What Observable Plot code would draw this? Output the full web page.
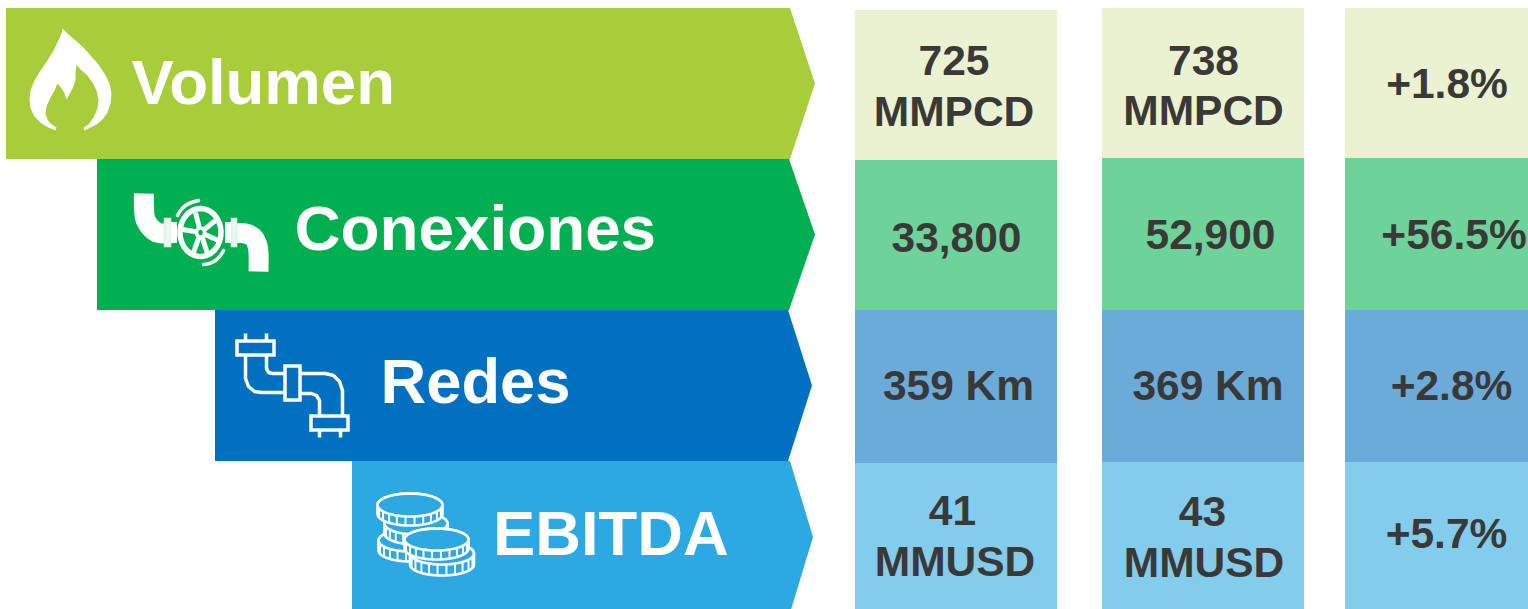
<!DOCTYPE html>
<html><head><meta charset="utf-8">
<script src="https://cdn.jsdelivr.net/npm/d3@7"></script>
<script src="https://cdn.jsdelivr.net/npm/@observablehq/plot@0.6"></script>
<style>html,body{margin:0;padding:0;background:#fff;overflow:hidden}svg{display:block}</style>
</head><body><div id="chart"></div>
<script>
const categories = ["Volumen", "Conexiones", "Redes", "EBITDA"];
const bandColors = ["#A9CD3A", "#00B050", "#0070C0", "#2CA8E2"];
const cellColors = ["#EAF2D2", "#6ED29B", "#6BABDA", "#83CCEC"];
const bandLeft = [6, 97, 215, 352];
const bandShoulder = [790, 789, 788, 790];
const bandTip = [815, 815, 812, 813];
const bandEdges = [8, 159, 310, 461, 613];
const labelX = [131, 294, 380, 492.5];
const labelY = [83.5, 229.5, 382.5, 534.5];
const labelSize = [63.5, 63.8, 63.3, 63.3];

const columnX = [[855, 1057], [1102, 1304], [1345, 1528]];
const columnEdges = [[10, 160, 310, 463, 609], [8, 158, 310, 462, 609], [8, 158, 310, 462, 609]];

const valueTexts = ["725", "MMPCD", "33,800", "359 Km", "41", "MMUSD",
  "738", "MMPCD", "52,900", "369 Km", "43", "MMUSD",
  "+1.8%", "+56.5%", "+2.8%", "+5.7%"];
const valueX = [953.5, 953.5, 956, 958, 952, 954.5, 1203, 1203, 1210, 1207.5, 1202, 1203.5, 1446.5, 1453.5, 1451, 1446];
const valueY = [61, 112, 238, 386, 511, 562, 61, 111, 235, 386, 512, 563, 84, 235, 386, 534];

// Icon outlines
const flame = [[62,28],[68,34],[75,40],[83,47],[90,55],[98,64],[104,73],[109,83],[111,93],[110,103],[107,112],[102,119],[96,124],[90,127],[84,130],[83,127],[88,124],[93,117],[97,108],[98,99],[96,90],[92,82],[86,74],[80,69],[76,64],[75,72],[75,80],[72,88],[66,99],[64,93],[62,89],[57,83],[54,90],[50,97],[46,106],[45,113],[47,119],[50,123],[56,127],[55,130],[48,127],[41,123],[34,116],[30,108],[29,98],[30,90],[34,80],[40,70],[47,60],[53,50],[58,40],[61,33]];
const pipeValveLeft = [[143.5,193],[143.5,208],[145,219],[151,228],[158,232.5],[171,232.5]];
const pipeValveRight = [[231,233],[245,233],[253,237],[257,245],[258,252],[258,271]];
const flanges = [[164,171,218,247],[231,237,218,247]];
const valveStubs = [[171,177,222,243],[225,231,222,243]];
const wheelCenter = [200, 232];
const wheelSpokes = [[195,212],[215,220],[218,240],[207,253],[193,252],[182,229]];
const wheelArcs = [[[177,215],[180,210],[185,205],[191,202],[198,200]], [[223,250],[220,255],[215,260],[209,263],[203,264]]];
const networkLines = [
  [[245,333],[245,341]], [[266,333],[266,341]],
  [[245,355],[245,378],[248,386],[254,391],[261,392],[285,392]],
  [[266,355],[266,368],[268,372],[272,373],[285,373]],
  [[300,373],[325,373],[333,375],[339,381],[342,390],[342,416]],
  [[300,393],[311,393],[316,395],[319,400],[319,416]],
  [[319,430],[319,437]], [[340,430],[340,437]]
];
const networkRects = [[237,274,341,355],[285,300,366,400],[311,348,416,430]];
const coinStack = [[410,540,32,11,10],[415.5,523,31.5,11,10],[409.5,504.5,32.5,11.5,9],[441.5,553,32,11,11],[436,539,32,11,9]];
const coinFill = bandColors[3];

const xy = ([x, y]) => ({x, y});
const ellipsePoints = (cx, cy, rx, ry, from = 0, to = 360, n = 48) =>
  d3.range(n + 1).map(i => {
    const a = (from + (to - from) * i / n) * Math.PI / 180;
    return {x: cx + rx * Math.cos(a), y: cy + ry * Math.sin(a)};
  });
const opts = {x: "x", y: "y"};

const bandMarks = categories.map((c, i) => Plot.area([
  {x: bandLeft[i], y1: bandEdges[i], y2: bandEdges[i + 1]},
  {x: bandShoulder[i], y1: bandEdges[i], y2: bandEdges[i + 1]},
  {x: bandTip[i], y1: (bandEdges[i] + bandEdges[i + 1]) / 2, y2: (bandEdges[i] + bandEdges[i + 1]) / 2}
], {x1: "x", y1: "y1", y2: "y2", fill: bandColors[i]}));

const cellMarks = columnX.flatMap((cx, j) => categories.map((c, i) => Plot.rect([0], {
  x1: () => cx[0], x2: () => cx[1], y1: () => columnEdges[j][i], y2: () => columnEdges[j][i + 1],
  fill: cellColors[i]
})));

const white = "#fff";
const valveMarks = [
  Plot.line(pipeValveLeft.map(xy), {...opts, stroke: white, strokeWidth: 20, strokeLinecap: "butt", curve: "catmull-rom"}),
  Plot.line(pipeValveRight.map(xy), {...opts, stroke: white, strokeWidth: 20, strokeLinecap: "butt", curve: "catmull-rom"}),
  Plot.rect(flanges, {x1: "0", x2: "1", y1: "2", y2: "3", fill: "#EAF7F0", stroke: "#C8EBD8", strokeWidth: 0.6}),
  Plot.rect(valveStubs, {x1: "0", x2: "1", y1: "2", y2: "3", fill: white}),
  Plot.line(ellipsePoints(wheelCenter[0], wheelCenter[1], 20.5, 24), {...opts, fill: bandColors[1], stroke: white, strokeWidth: 5.5}),
  Plot.link(wheelSpokes, {x1: () => wheelCenter[0], y1: () => wheelCenter[1], x2: "0", y2: "1", stroke: white, strokeWidth: 5}),
  Plot.line(ellipsePoints(wheelCenter[0], wheelCenter[1], 4, 4.5), {...opts, fill: bandColors[1], stroke: white, strokeWidth: 3.5}),
  ...wheelArcs.map(a => Plot.line(a.map(xy), {...opts, stroke: white, strokeWidth: 3.5, strokeLinecap: "round", curve: "catmull-rom"}))
];

const networkMarks = [
  ...networkLines.map(l => Plot.line(l.map(xy), {...opts, stroke: white, strokeWidth: 3.5, strokeLinecap: "butt", strokeLinejoin: "round"})),
  Plot.rect(networkRects, {x1: "0", x2: "1", y1: "2", y2: "3", stroke: white, strokeWidth: 3.5, fill: "none"})
];

const coinMarks = coinStack.flatMap(([cx, cy, rx, ry, d]) => {
  const body = [
    ...ellipsePoints(cx, cy, rx, ry, 180, 360),
    ...ellipsePoints(cx, cy + d, rx, ry, 0, 180)
  ];
  const ticks = d3.range(18, 170, 16).map(a => {
    const r = a * Math.PI / 180;
    return {x: cx + rx * Math.cos(r), y1: cy + ry * Math.sin(r) + 1, y2: cy + d + ry * Math.sin(r)};
  });
  return [
    Plot.line([...body, body[0]], {...opts, fill: coinFill, stroke: white, strokeWidth: 2.6}),
    Plot.ruleX(ticks, {x: "x", y1: "y1", y2: "y2", stroke: white, strokeWidth: 2}),
    Plot.line(ellipsePoints(cx, cy, rx, ry), {...opts, fill: coinFill, stroke: white, strokeWidth: 2.6})
  ];
});

const chart = Plot.plot({
  width: 1528, height: 609, margin: 0,
  x: {domain: [0, 1528], range: [0, 1528], axis: null},
  y: {domain: [0, 609], range: [0, 609], axis: null},
  style: {background: "#fff", fontFamily: "'Liberation Sans', Arial, sans-serif"},
  marks: [
    ...cellMarks,
    ...bandMarks,
    Plot.line(flame.concat([flame[0]]).map(xy), {...opts, fill: white}),
    ...valveMarks,
    ...networkMarks,
    ...coinMarks,
    ...categories.map((c, i) => Plot.text([c], {
      x: () => labelX[i], y: () => labelY[i], text: d => d,
      fill: white, fontSize: labelSize[i], fontWeight: 700, textAnchor: "start", lineAnchor: "middle",
      fontFamily: "'Liberation Sans', Arial, sans-serif"
    })),
    Plot.text(valueTexts, {
      x: (d, i) => valueX[i], y: (d, i) => valueY[i], text: d => d,
      fill: "#3B3838", fontSize: 42.5, fontWeight: 700, textAnchor: "middle", lineAnchor: "middle",
      fontFamily: "'Liberation Sans', Arial, sans-serif"
    })
  ]
});
document.getElementById("chart").appendChild(chart);
</script></body></html>
